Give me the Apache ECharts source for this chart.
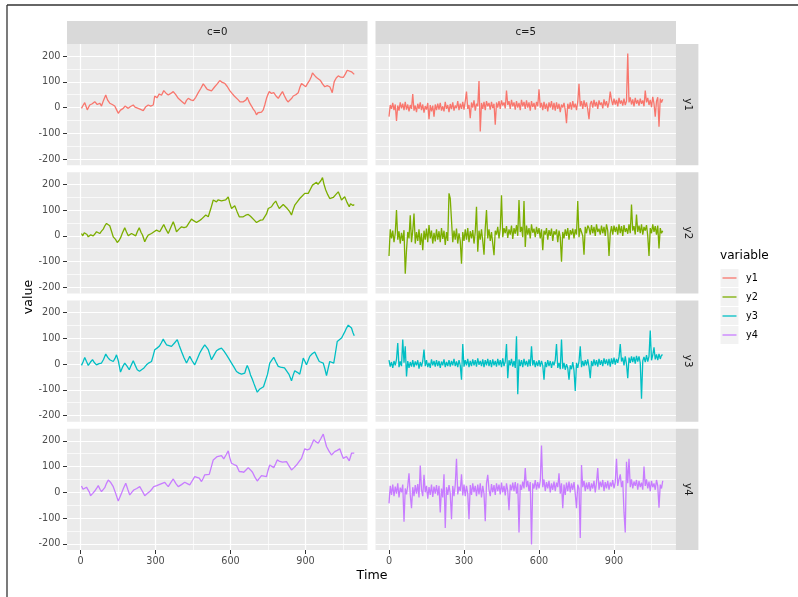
<!DOCTYPE html>
<html>
<head>
<meta charset="utf-8">
<script src="https://cdn.jsdelivr.net/npm/echarts@6/dist/echarts.min.js"></script>
<style>
  html, body { margin: 0; padding: 0; background: #fff; }
  #chart { width: 798px; height: 597px; }
</style>
</head>
<body>
<div id="chart"></div>
<script>
// facet labels
const variables = ["y1", "y2", "y3", "y4"];
const facets = ["c=0", "c=5"];
const colors = ["#F8766D", "#7CAE00", "#00BFC4", "#C77CFF"];

const xTicks = [0, 300, 600, 900];
const xMinor = [150, 450, 750, 1050];
const yTicks = [-200, -100, 0, 100, 200];
const yMinor = [-150, -50, 50, 150];

// c=0 : random walks, [time, value]
const y1c0 = [[4,-3],[10,8],[17,19],[22,5],[27,-9],[37,10],[47,15],[57,23],[67,12],[77,17],[84,6],[92,28],[101,49],[108,30],[117,17],[127,12],[137,6],[144,-8],[151,-22],[160,-10],[171,-3],[178,6],[185,0],[191,-3],[200,4],[211,10],[218,2],[224,0],[238,-6],[251,-12],[260,2],[271,10],[281,6],[291,10],[297,45],[306,38],[315,53],[324,48],[333,66],[342,56],[351,49],[361,55],[371,62],[381,50],[391,36],[404,25],[417,14],[424,28],[431,36],[441,30],[451,27],[461,40],[471,58],[481,74],[491,92],[500,80],[507,71],[515,76],[524,65],[530,72],[537,81],[547,92],[557,105],[567,98],[577,94],[587,82],[597,66],[606,55],[615,45],[623,38],[631,30],[638,22],[644,17],[650,22],[657,19],[662,30],[667,40],[672,28],[677,17],[684,6],[691,-6],[698,-15],[704,-28],[710,-20],[717,-15],[724,-18],[731,-9],[737,10],[744,36],[750,52],[755,62],[764,55],[773,58],[782,45],[791,36],[800,50],[808,62],[816,45],[824,30],[830,22],[837,23],[844,35],[851,45],[861,50],[871,58],[878,80],[884,94],[891,88],[901,81],[909,95],[917,107],[923,120],[928,135],[936,125],[944,117],[952,110],[960,105],[968,92],[977,81],[987,85],[997,81],[1002,70],[1007,58],[1011,80],[1015,101],[1023,115],[1031,123],[1041,118],[1051,117],[1059,130],[1067,145],[1075,140],[1084,139],[1090,133],[1095,129]];

const y2c0 = [[4,9],[9,0],[15,12],[21,16],[26,5],[31,-4],[41,4],[51,0],[58,8],[64,16],[71,12],[77,9],[84,18],[91,26],[98,40],[104,48],[111,44],[117,39],[124,18],[131,-4],[140,-14],[147,-26],[154,-18],[160,-8],[168,12],[177,31],[184,15],[191,0],[198,6],[204,9],[212,4],[221,0],[228,18],[235,31],[242,14],[248,3],[257,-23],[264,-8],[271,3],[278,6],[284,9],[294,16],[304,22],[311,18],[317,16],[325,30],[333,44],[342,25],[351,9],[361,32],[371,55],[378,35],[384,16],[394,26],[404,35],[414,32],[424,35],[434,50],[444,65],[454,58],[464,52],[474,58],[484,65],[492,72],[501,81],[507,78],[511,74],[521,105],[531,139],[538,135],[544,132],[550,140],[557,145],[564,136],[571,130],[581,140],[591,151],[597,128],[604,106],[610,112],[617,117],[626,95],[635,74],[643,72],[651,74],[661,80],[671,83],[680,76],[688,70],[696,60],[704,52],[712,56],[720,61],[729,62],[737,65],[744,85],[751,106],[758,108],[764,113],[772,125],[781,135],[788,120],[795,106],[803,114],[811,122],[819,114],[827,106],[836,95],[844,81],[850,100],[857,119],[867,132],[877,145],[887,155],[897,165],[904,162],[911,165],[920,182],[928,197],[936,202],[944,208],[950,200],[955,204],[962,215],[968,226],[974,200],[981,178],[989,160],[997,145],[1004,146],[1011,149],[1021,160],[1031,171],[1038,155],[1044,139],[1050,145],[1057,152],[1066,130],[1075,113],[1080,125],[1084,130],[1090,118],[1095,122]];

const y3c0 = [[4,-5],[10,8],[17,26],[24,10],[31,-5],[40,8],[48,17],[56,5],[64,-3],[74,2],[84,4],[92,18],[101,39],[109,26],[117,17],[124,15],[131,10],[138,22],[144,36],[152,10],[160,-31],[168,-12],[177,4],[186,-8],[195,-22],[203,-4],[211,13],[219,-5],[227,-22],[236,-28],[244,-31],[254,-15],[264,-3],[274,5],[284,10],[290,30],[297,56],[306,62],[315,69],[323,82],[331,97],[337,86],[344,75],[354,72],[364,69],[376,82],[387,95],[395,72],[404,49],[414,25],[424,4],[431,18],[437,30],[447,12],[457,-3],[467,20],[477,43],[487,60],[497,75],[504,66],[511,56],[518,35],[524,17],[534,35],[544,52],[554,58],[564,62],[574,50],[584,36],[594,20],[604,4],[614,-12],[624,-29],[634,-35],[644,-39],[650,-37],[657,-35],[662,-18],[667,-5],[674,-22],[680,-42],[687,-58],[693,-74],[700,-92],[707,-109],[716,-98],[724,-91],[732,-88],[740,-83],[748,-40],[757,4],[765,15],[773,26],[782,8],[791,-9],[800,-12],[808,-16],[816,-15],[824,-13],[834,-40],[844,-65],[851,-42],[857,-26],[867,-32],[877,-39],[884,-10],[891,23],[898,10],[904,-3],[911,15],[917,30],[927,40],[937,47],[946,28],[955,10],[963,8],[971,4],[978,-20],[984,-45],[991,-15],[997,10],[1005,6],[1013,4],[1020,45],[1027,88],[1035,95],[1044,101],[1050,112],[1057,125],[1064,140],[1071,151],[1078,145],[1084,140],[1090,122],[1095,110]];

const y4c0 = [[4,25],[10,12],[17,9],[24,20],[31,16],[36,0],[40,-13],[48,-5],[57,5],[64,15],[71,26],[78,12],[84,3],[91,10],[97,18],[104,35],[111,48],[121,38],[131,22],[141,-5],[151,-34],[157,-20],[164,-4],[172,16],[181,35],[189,12],[197,-10],[205,0],[213,9],[225,15],[237,22],[247,5],[257,-13],[267,-5],[277,3],[285,12],[293,22],[305,26],[317,31],[327,35],[337,39],[344,30],[351,22],[361,38],[371,52],[381,35],[391,22],[404,30],[417,39],[427,34],[437,29],[447,45],[457,61],[466,58],[475,55],[480,48],[484,42],[491,55],[497,68],[506,69],[515,70],[523,98],[531,126],[539,132],[547,139],[555,141],[564,143],[569,136],[573,130],[582,145],[591,161],[597,135],[604,113],[614,108],[624,104],[630,92],[635,81],[644,80],[653,78],[662,87],[671,96],[680,87],[688,78],[697,60],[707,44],[716,55],[724,65],[734,63],[744,61],[750,85],[757,106],[765,101],[773,96],[780,110],[787,126],[797,120],[808,117],[816,118],[824,119],[834,103],[844,87],[854,96],[864,106],[874,119],[884,132],[891,152],[897,169],[907,165],[917,169],[925,186],[933,204],[942,196],[951,191],[961,208],[971,226],[978,200],[984,178],[994,160],[1004,145],[1011,150],[1017,158],[1027,163],[1037,169],[1044,150],[1051,132],[1058,136],[1064,139],[1070,130],[1075,122],[1080,138],[1084,152],[1090,148],[1095,152]];

// c=5 : noisy series, one value every STEP time units (rows of 100 time units)
const STEP = 5;
const y1c5 = [
  -35,10,-5,18,-10,12,-52,8,-12,20,-3,15,-10,22,-8,12,-15,10,-5,53,
  -12,8,-18,15,-5,20,-10,12,-20,6,-8,18,-45,10,-15,8,-35,12,-10,15,
  -8,18,-12,5,-15,22,-5,10,-18,14,-6,20,-12,8,-2,25,-10,15,-5,22,
  -8,25,62,-5,10,-41,20,0,28,-12,15,5,103,-93,18,-5,22,-10,25,5,
  18,-8,22,-2,15,-67,20,0,25,-5,28,8,20,-3,66,10,25,-5,30,5,
  20,-8,25,0,18,-10,30,5,22,-5,28,0,20,-12,25,2,18,-8,22,5,
  71,0,18,-10,22,-5,15,-15,20,0,25,-8,18,-12,20,-5,15,-18,12,0,
  18,-10,-61,15,-5,20,-8,25,0,15,-10,22,92,5,25,-5,28,2,20,-8,
  -45,15,25,0,30,5,22,-5,28,10,20,-3,32,8,25,0,20,62,30,10,
  35,12,30,5,38,15,28,8,35,10,25,210,20,40,12,32,5,38,15,30,
  8,35,15,28,5,66,20,38,10,30,2,42,15,-35,25,40,-74,35,20,32
];
const y2c5 = [
  -78,25,-10,20,-25,10,100,-15,18,-30,12,-20,22,-147,-56,15,-10,80,-25,20,
  87,-30,15,-20,25,-35,10,-56,20,-15,28,-25,42,-10,20,-30,12,-22,25,-15,
  18,-25,30,-12,20,-35,15,-20,165,145,139,-25,20,-15,28,-30,10,-20,-108,15,
  -20,25,-15,30,-25,18,-10,22,-30,15,113,-62,20,-15,25,-20,-73,30,100,-10,
  25,-20,15,-30,-75,20,5,35,-10,28,158,-5,30,10,38,-8,25,5,40,-12,
  30,8,42,0,139,15,35,-5,135,-43,40,5,30,-10,45,12,28,-5,35,8,
  30,-10,25,-56,20,5,30,-15,22,0,28,-20,18,5,25,-25,20,-5,-101,15,
  -10,25,0,30,-15,22,5,28,-10,25,5,135,-5,30,15,0,-73,35,10,40,
  30,5,42,10,35,0,45,15,28,5,40,10,35,0,45,20,-78,10,38,5,
  40,15,35,5,45,10,38,0,42,15,30,8,45,10,122,20,38,5,83,15,
  40,10,45,5,35,20,42,0,-78,30,10,45,15,38,5,40,-49,30,10,20
];
const y3c5 = [
  15,-10,8,-15,12,-5,18,82,-12,10,-8,95,5,69,-48,12,-15,8,-10,15,
  -12,10,-5,15,-18,8,-10,12,56,-8,15,-12,5,-15,18,-5,12,-10,15,-8,
  12,-15,10,-5,18,-12,8,-8,15,-10,12,-5,20,-8,10,-12,15,-5,-61,78,
  -10,15,-5,20,-12,12,-8,18,-5,15,-10,22,-3,12,-8,18,-12,15,-5,20,
  -8,15,-12,18,-5,12,-10,20,-5,15,-12,22,-8,10,78,-55,15,-5,20,-10,
  12,-15,108,-117,18,-8,15,-12,20,-5,12,-10,18,-8,69,-5,15,-12,10,-8,
  15,-10,12,-5,-61,8,-12,15,-8,12,-15,10,-5,15,78,-15,5,-20,95,-18,
  5,-22,0,-15,-61,-5,-20,8,-25,-104,5,-15,10,69,-12,12,-8,15,-5,18,
  -10,-55,12,-8,18,-5,15,-10,20,-3,15,-8,22,0,18,-5,20,-10,22,0,
  25,-2,20,5,28,78,10,25,-5,30,0,-55,25,5,30,8,28,2,32,10,
  30,5,-135,12,28,8,35,10,30,130,15,35,65,18,38,15,40,20,35,36
];
const y4c5 = [
  -43,25,-10,30,-15,22,-5,35,-20,18,0,30,-114,15,-8,25,74,-10,-62,20,
  -15,28,-5,32,-20,104,10,-15,68,0,25,-25,20,-10,30,-18,22,-5,28,-12,
  25,-78,15,-20,70,-138,20,-10,28,-5,-104,25,-15,30,130,-8,22,5,70,-12,
  30,-15,25,-5,-104,28,-10,35,0,25,-15,30,-8,35,-20,25,-5,-112,35,68,
  10,-15,32,0,28,-10,35,5,30,-8,38,0,25,-12,35,5,-69,30,8,38,
  5,40,-5,35,-156,30,10,42,15,94,20,45,5,40,-203,35,15,48,10,40,
  15,45,182,20,50,5,40,15,45,0,35,10,42,5,38,20,74,-5,35,-62,
  30,-10,38,5,42,0,35,10,40,-5,-62,30,15,-177,106,20,45,5,38,12,
  40,5,35,15,45,0,38,94,10,42,20,48,5,40,15,45,10,38,22,48,
  15,40,130,25,50,70,20,45,-78,-156,119,35,130,20,50,15,42,25,48,10,
  45,20,38,10,100,25,50,15,42,5,45,20,35,10,48,25,-60,30,15,45
];

const toPairs = vals => vals.map((v, i) => [i * STEP, v]);
const seriesData = [
  [y1c0, toPairs(y1c5)],
  [y2c0, toPairs(y2c5)],
  [y3c0, toPairs(y3c5)],
  [y4c0, toPairs(y4c5)]
];

const chart = echarts.init(document.getElementById("chart"), null, { renderer: "canvas" });

const FONT = "DejaVu Sans";
const panelLeft = [67, 375.5];
const panelW = 300.5;
const panelTop = [44, 172.25, 300.5, 428.75];
const panelH = 121.25;
const xMin = -54, xMax = 1148;
const yMin = -224, yMax = 247;

const grids = [], xAxes = [], yAxes = [], series = [];
variables.forEach((v, r) => {
  facets.forEach((f, c) => {
    const g = grids.length;
    grids.push({
      left: panelLeft[c], top: panelTop[r], width: panelW, height: panelH,
      show: true, backgroundColor: "#EBEBEB", borderWidth: 0
    });
    const bottomRow = r === variables.length - 1;
    const leftCol = c === 0;
    // major axes (carry the data)
    xAxes.push({
      type: "value", gridIndex: g, min: xMin, max: xMax, position: "bottom",
      axisLine: { show: false, onZero: false },
      axisTick: { show: bottomRow, customValues: xTicks, length: 4, lineStyle: { color: "#333333", width: 1 } },
      axisLabel: { show: bottomRow, customValues: xTicks, margin: 6, color: "#4D4D4D", fontSize: 9.7, fontFamily: FONT },
      splitLine: { show: true, lineStyle: { color: "#FFFFFF", width: 1.2 } }
    });
    yAxes.push({
      type: "value", gridIndex: g, min: yMin, max: yMax, position: "left",
      axisLine: { show: false, onZero: false },
      axisTick: { show: leftCol, customValues: yTicks, length: 4, lineStyle: { color: "#333333", width: 1 } },
      axisLabel: { show: leftCol, customValues: yTicks, margin: 6.5, color: "#4D4D4D", fontSize: 9.7, fontFamily: FONT },
      splitLine: { show: true, lineStyle: { color: "#FFFFFF", width: 1.2 } }
    });
    // minor gridlines
    xAxes.push({
      type: "value", gridIndex: g, min: xMin, max: xMax, position: "top",
      axisLine: { show: false, onZero: false },
      axisTick: { show: true, customValues: xMinor, length: 0.01, lineStyle: { color: "rgba(0,0,0,0)" } },
      axisLabel: { show: false, customValues: xMinor },
      splitLine: { show: true, lineStyle: { color: "#FFFFFF", width: 0.7 } }
    });
    yAxes.push({
      type: "value", gridIndex: g, min: yMin, max: yMax, position: "right",
      axisLine: { show: false, onZero: false },
      axisTick: { show: true, customValues: yMinor, length: 0.01, lineStyle: { color: "rgba(0,0,0,0)" } },
      axisLabel: { show: false, customValues: yMinor },
      splitLine: { show: true, lineStyle: { color: "#FFFFFF", width: 0.7 } }
    });
    series.push({
      name: v, type: "line", xAxisIndex: g * 2, yAxisIndex: g * 2,
      data: seriesData[r][c], showSymbol: false, symbol: "none",
      lineStyle: { color: colors[r], width: 1.3 }, itemStyle: { color: colors[r] },
      z: 5
    });
  });
});

const graphics = [];
// frame lines
graphics.push({ type: "line", shape: { x1: 7, y1: 5, x2: 798, y2: 5 }, style: { stroke: "#333333", lineWidth: 1.3 } });
graphics.push({ type: "line", shape: { x1: 7, y1: 5, x2: 7, y2: 597 }, style: { stroke: "#333333", lineWidth: 1.3 } });
// column strips
facets.forEach((f, c) => {
  graphics.push({ type: "rect", shape: { x: panelLeft[c], y: 21, width: panelW, height: 23 }, style: { fill: "#D9D9D9" } });
  graphics.push({ type: "text", x: panelLeft[c] + panelW / 2, y: 32.5,
    style: { text: f, fill: "#1A1A1A", font: "10.2px '" + FONT + "'", align: "center", verticalAlign: "middle" } });
});
// row strips
variables.forEach((v, r) => {
  graphics.push({ type: "rect", shape: { x: 675.9, y: panelTop[r], width: 22.5, height: panelH }, style: { fill: "#D9D9D9" } });
  graphics.push({ type: "text", x: 687.2, y: panelTop[r] + panelH / 2, rotation: -Math.PI / 2,
    style: { text: v, fill: "#1A1A1A", font: "10.2px '" + FONT + "'", align: "center", verticalAlign: "middle" } });
});
// axis titles
graphics.push({ type: "text", x: 372, y: 576, style: { text: "Time", fill: "#000000", font: "12.6px '" + FONT + "'", align: "center", verticalAlign: "middle" } });
graphics.push({ type: "text", x: 29, y: 297, rotation: Math.PI / 2, style: { text: "value", fill: "#000000", font: "12.6px '" + FONT + "'", align: "center", verticalAlign: "middle" } });
// legend
graphics.push({ type: "text", x: 720, y: 256, style: { text: "variable", fill: "#000000", font: "12.1px '" + FONT + "'", align: "left", verticalAlign: "middle" } });
variables.forEach((v, i) => {
  const ky = 269 + i * 19;
  graphics.push({ type: "rect", shape: { x: 720.5, y: ky, width: 18, height: 18 }, style: { fill: "#F2F2F2" } });
  graphics.push({ type: "line", shape: { x1: 722.5, y1: ky + 9, x2: 736.5, y2: ky + 9 }, style: { stroke: colors[i], lineWidth: 1.3 } });
  graphics.push({ type: "text", x: 746, y: ky + 9, style: { text: v, fill: "#000000", font: "9.7px '" + FONT + "'", align: "left", verticalAlign: "middle" } });
});

chart.setOption({
  animation: false,
  backgroundColor: "#FFFFFF",
  textStyle: { fontFamily: FONT },
  grid: grids,
  xAxis: xAxes,
  yAxis: yAxes,
  series: series,
  graphic: graphics
});
</script>
</body>
</html>
